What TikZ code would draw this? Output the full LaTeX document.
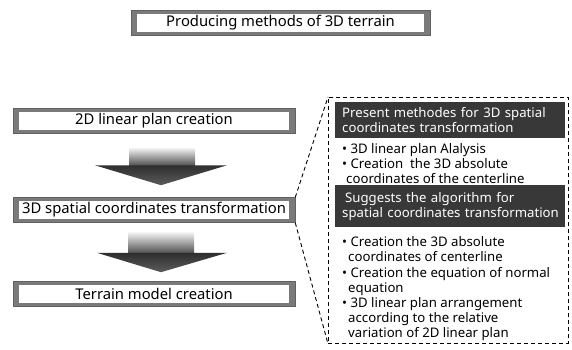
\documentclass[tikz,border=0pt]{standalone}
\usepackage{fontspec}
\setmainfont{Noto Sans}
\usetikzlibrary{calc}
\tikzset{
  framebox/.style={fill=black!52, draw=black!62, line width=.6pt, inner sep=0pt,
    minimum height=25pt, font=\fontsize{14.8}{17}\selectfont,
    path picture={\fill[white] ([xshift=6pt,yshift=3.5pt]path picture bounding box.south west)
      rectangle ([xshift=-6pt,yshift=-3.5pt]path picture bounding box.north east);}},
  headbox/.style={fill=black!78, text=white, anchor=north west, inner xsep=7pt, inner ysep=0pt,
    minimum width=230pt, text width=216pt, align=left, font=\fontsize{13.2}{15.2}\selectfont},
  itemlist/.style={anchor=north west, inner sep=0pt, align=left, font=\fontsize{13.2}{15.2}\selectfont},
  linkline/.style={dashed, dash pattern=on 4pt off 3pt, line width=.9pt},
  shaftshade/.style={top color=red!8!black!6, bottom color=black!68},
  headshade/.style={top color=black!82, bottom color=black!64}
}
\begin{document}
\begin{tikzpicture}[x=1pt, y=-1pt]
	\useasboundingbox (0,0) rectangle (572,349);
	\node[framebox, minimum width=299pt] (title) at (280.5,23) {Producing methods of 3D terrain};
	\node[framebox, minimum width=282pt] (plan) at (154,120.5) {2D linear plan creation};
	\node[framebox, minimum width=282pt] (trans) at (154,210) {3D spatial coordinates transformation};
	\node[framebox, minimum width=282pt] (model) at (154,294) {Terrain model creation};
	% flow arrows
	\shade[shaftshade] ($(plan.south)+(-25,15)$) rectangle ($(plan.south)+(41,32)$);
	\shade[headshade] ($(plan.south)+(-59,32)$) -- ($(plan.south)+(73,32)$) -- ($(trans.north)+(7,-12)$) -- cycle;
	\shade[shaftshade] ($(trans.south)+(-26,10)$) rectangle ($(trans.south)+(40,30)$);
	\shade[headshade] ($(trans.south)+(-57,30)$) -- ($(trans.south)+(73,30)$) -- ($(model.north)+(7,-9)$) -- cycle;
	% detail panel
	\node[draw, linkline, anchor=north west, minimum width=240pt, minimum height=246pt, inner sep=0pt] (detail) at (328,97) {};
	\draw[linkline] (trans.north east) -- (detail.north west);
	\draw[linkline] (trans.south east) -- (detail.south west);
	\node[headbox, minimum height=36pt] (present) at (335,102) {Present methodes for 3D spatial\\coordinates transformation};
	\node[itemlist] (presentlist) at (342,143) {\textbullet\ 3D linear plan Alalysis\\
		\textbullet\ Creation\ \ the 3D absolute\\
		\hspace*{4pt}coordinates of the centerline};
	\node[headbox, minimum height=42pt] (suggest) at (335,185) {\hspace*{3pt}Suggests the algorithm for\\\mbox{spatial coordinates transformation}};
	\node[itemlist] (suggestlist) at (342,236.5) {\textbullet\ Creation the 3D absolute\\
		\hspace*{6pt}coordinates of centerline\\
		\textbullet\ Creation the equation of normal\\
		\hspace*{6pt}equation\\
		\textbullet\ 3D linear plan arrangement\\
		\hspace*{6pt}according to the relative\\
		\hspace*{6pt}variation of 2D linear plan};
\end{tikzpicture}
\end{document}
